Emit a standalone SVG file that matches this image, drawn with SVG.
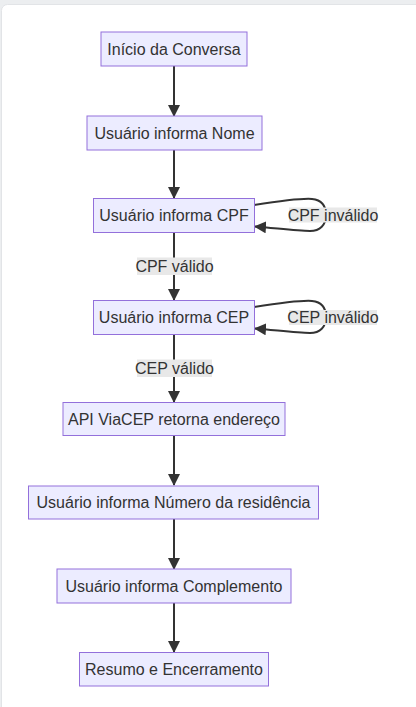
<svg xmlns="http://www.w3.org/2000/svg" width="416" height="707" viewBox="0 0 416 707">
<style>
.node rect{fill:#ECECFF;stroke:#9370DB;stroke-width:1}
.node text,.lbl text{font-family:"Liberation Sans",Arial,sans-serif;font-size:16px;fill:#333;text-anchor:middle;dominant-baseline:central}
.edge{fill:none;stroke:#333;stroke-width:2}
.lbl rect{fill:#e8e8e8}
</style>
<defs>
<marker id="ah" viewBox="0 0 12 12" refX="11" refY="6" markerWidth="12" markerHeight="12" markerUnits="userSpaceOnUse" orient="auto">
<path d="M0,0 L12,6 L0,12 z" fill="#333"/>
</marker>
</defs>
<rect x="0" y="0" width="416" height="707" fill="#eceef0"/>
<rect x="1.5" y="4.5" width="430" height="720" rx="6" fill="#ffffff" stroke="#e2e4e7"/>
<g id="connectors">
<path class="edge" d="M174,66 L174,116" marker-end="url(#ah)"/>
<path class="edge" d="M174,150 L174,198" marker-end="url(#ah)"/>
<path class="edge" d="M174,232 L174,300" marker-end="url(#ah)"/>
<path class="edge" d="M174,334 L174,402" marker-end="url(#ah)"/>
<path class="edge" d="M174,436 L174,485" marker-end="url(#ah)"/>
<path class="edge" d="M174,519 L174,569" marker-end="url(#ah)"/>
<path class="edge" d="M174,603 L174,652" marker-end="url(#ah)"/>
<path class="edge" d="M254,205 C280,201 300,198 312,199 C322,200 326,206 326,215 C326,225 320,231 310,231 C296,231 275,228 255,226.5" marker-end="url(#ah)"/>
<path class="edge" d="M254,307 C280,303 300,300 312,301 C322,302 326,308 326,317 C326,327 320,333 310,333 C296,333 275,330 255,328.5" marker-end="url(#ah)"/>
<g class="lbl">
<rect x="137" y="257.5" width="75" height="17.5"/><text x="174.5" y="266.5">CPF válido</text>
<rect x="137" y="359.5" width="75" height="17.5"/><text x="174.5" y="368.5">CEP válido</text>
<rect x="289" y="207.5" width="88" height="15"/><text x="333" y="215.5">CPF inválido</text>
<rect x="289" y="310" width="88" height="15"/><text x="333" y="317.5">CEP inválido</text>
</g>
</g>
<g id="n1" class="node"><rect x="101" y="32" width="146" height="34"/><text x="174" y="49">Início da Conversa</text></g>
<g id="n2" class="node"><rect x="87" y="116" width="175" height="34"/><text x="174.5" y="133">Usuário informa Nome</text></g>
<g id="n3" class="node"><rect x="93.5" y="198.5" width="161" height="34"/><text x="174" y="215.5">Usuário informa CPF</text></g>
<g id="n4" class="node"><rect x="93.5" y="300.5" width="161" height="34"/><text x="174" y="317.5">Usuário informa CEP</text></g>
<g id="n5" class="node"><rect x="63" y="402.5" width="222" height="33"/><text x="174" y="419">API ViaCEP retorna endereço</text></g>
<g id="n6" class="node"><rect x="28.5" y="486" width="290" height="33"/><text x="173.5" y="502.5">Usuário informa Número da residência</text></g>
<g id="n7" class="node"><rect x="57" y="569" width="234" height="34"/><text x="174" y="586">Usuário informa Complemento</text></g>
<g id="n8" class="node"><rect x="79.5" y="652.5" width="189" height="33.5"/><text x="174" y="669">Resumo e Encerramento</text></g>
</svg>
